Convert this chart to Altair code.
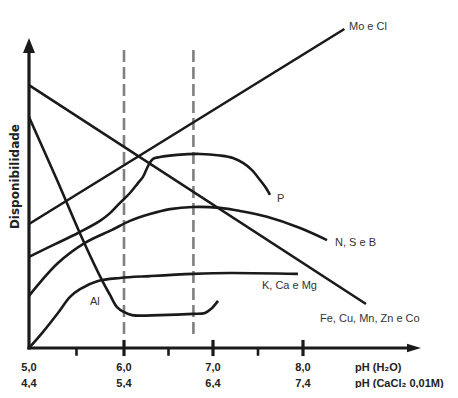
import altair as alt
import pandas as pd

# ---------------- data (pH on x, relative availability on y) ----------------
mo_ph = [5.00, 8.46]
mo_v = [40.0, 102.9]

fe_ph = [5.00, 8.70]
fe_v = [84.8, 14.2]

al_ph = [5.00, 5.295, 5.558, 5.768, 5.853, 5.926, 6.00, 6.09, 6.404, 6.775, 6.91, 6.978, 7.056]
al_v = [74.5, 54.2, 35.5, 21.9, 17.1, 13.2, 11.6, 10.6, 10.6, 11.0, 11.3, 12.6, 15.2]

p_ph = [5.00, 5.274, 5.516, 5.747, 5.853, 5.958, 6.067, 6.157, 6.213, 6.270, 6.326, 6.404,
        6.596, 6.854, 7.078, 7.222, 7.333, 7.433, 7.522, 7.589, 7.633]
p_v = [29.4, 33.5, 37.1, 41.0, 43.5, 46.8, 50.0, 53.2, 55.2, 58.7, 61.0, 61.6,
       62.3, 62.6, 62.1, 61.3, 59.7, 57.4, 54.2, 51.6, 49.4]

n_ph = [5.00, 5.305, 5.589, 5.874, 6.067, 6.292, 6.517, 6.775, 7.078, 7.30, 7.60, 7.967, 8.267]
n_v = [16.8, 27.4, 33.9, 38.1, 41.0, 43.2, 44.8, 45.5, 45.2, 44.2, 42.3, 38.7, 34.8]

k_ph = [5.00, 5.137, 5.305, 5.432, 5.537, 5.726, 5.958, 6.292, 6.775, 7.189, 7.944]
k_v = [0.0, 4.8, 11.3, 16.5, 19.0, 21.6, 22.6, 23.2, 23.9, 24.2, 23.9]

series_names = ["Mo e Cl", "Fe, Cu, Mn, Zn e Co", "Al", "P", "N, S e B", "K, Ca e Mg"]
series_ph = [mo_ph, fe_ph, al_ph, p_ph, n_ph, k_ph]
series_v = [mo_v, fe_v, al_v, p_v, n_v, k_v]

label_text = ["Mo e Cl", "P", "N, S e B", "K, Ca e Mg", "Fe, Cu, Mn, Zn e Co", "Al"]
label_ph = [8.511, 7.711, 8.356, 7.544, 8.189, 5.642]
label_v = [103.6, 48.1, 33.9, 20.0, 9.45, 14.8]

tick_pos = [5, 6, 7, 8]
tick_h2o = ["5,0", "6,0", "7,0", "8,0"]
tick_cacl2 = ["4,4", "5,4", "6,4", "7,4"]
minor_pos = [5.5, 6.5, 7.5]
major_pos = [6, 7, 8]

scale_titles = ["pH (H₂O)", "pH (CaCl₂ 0,01M)"]
dashed_ph = [6.0, 6.78]
y_title = "Disponibilidade"

# ---------------- scales ----------------
xs = alt.Scale(domain=[5, 6, 7, 8], range=[21, 116, 205, 295], nice=False, zero=False)
ys = alt.Scale(domain=[0, 100], range=[340, 30], nice=False, zero=False)

def X(field="x", **kw):
    return alt.X(f"{field}:Q", scale=xs, axis=None, **kw)

def Y(field="y", **kw):
    return alt.Y(f"{field}:Q", scale=ys, axis=None, **kw)

rows = []
for name, phs, vs in zip(series_names, series_ph, series_v):
    for i, (a, b) in enumerate(zip(phs, vs)):
        rows.append({"series": name, "x": a, "y": b, "i": i})
curves_df = pd.DataFrame(rows)

curves = alt.Chart(curves_df).mark_line(
    color="#1a1a1a", strokeWidth=2.6, interpolate="catmull-rom"
).encode(x=X(), y=Y(), detail="series:N", order="i:Q")

dash_df = pd.DataFrame({"x": dashed_ph, "y": [96.1] * 2, "y2": [3.5] * 2})
dashed = alt.Chart(dash_df).mark_rule(
    color="#808080", strokeWidth=2.6, strokeDash=[12, 5]
).encode(x=X(), y=Y(), y2="y2:Q")

# axis lines
axis_df = pd.DataFrame({"x": [5.0, 5.0], "x2": [5.0, 9.17], "y": [0.0, 0.0], "y2": [96.1, 0.0]})
axes = alt.Chart(axis_df).mark_rule(color="#1a1a1a", strokeWidth=3.2, strokeCap="square").encode(
    x=X(), x2="x2:Q", y=Y(), y2="y2:Q"
)

major_df = pd.DataFrame({"x": major_pos, "y": [2.6] * 3, "y2": [-2.6] * 3})
major = alt.Chart(major_df).mark_rule(color="#1a1a1a", strokeWidth=3.2).encode(
    x=X(), y=Y(), y2="y2:Q"
)
minor_df = pd.DataFrame({"x": minor_pos, "y": [0.0] * 3, "y2": [-2.5] * 3})
minor = alt.Chart(minor_df).mark_rule(color="#1a1a1a", strokeWidth=2.6).encode(
    x=X(), y=Y(), y2="y2:Q"
)

arrow_up = alt.Chart(pd.DataFrame({"x": [5.0], "y": [97.6]})).mark_point(
    shape="M0,-1L0.8,1L-0.8,1Z", filled=True, size=225, color="#1a1a1a", opacity=1
).encode(x=X(), y=Y())
arrow_right = alt.Chart(pd.DataFrame({"x": [9.233], "y": [0.0]})).mark_point(
    shape="M1,0L-1,-0.62L-1,0.62Z", filled=True, size=196, color="#1a1a1a", opacity=1
).encode(x=X(), y=Y())

labels_df = pd.DataFrame({"x": label_ph, "y": label_v, "t": label_text})
labels = alt.Chart(labels_df).mark_text(
    align="left", baseline="middle", font="Liberation Sans", fontSize=11, color="#333333"
).encode(x=X(), y=Y(), text="t:N")

ticks_df = pd.DataFrame({"x": tick_pos, "a": tick_h2o, "b": tick_cacl2})
tick_row1 = alt.Chart(ticks_df).mark_text(
    align="center", baseline="middle", font="Liberation Sans", fontSize=11,
    fontWeight="bold", color="#222222"
).encode(x=X(), y=alt.Y("ya:Q", scale=ys, axis=None), text="a:N").transform_calculate(ya="-6.3")
tick_row2 = alt.Chart(ticks_df).mark_text(
    align="center", baseline="middle", font="Liberation Sans", fontSize=11,
    fontWeight="bold", color="#222222"
).encode(x=X(), y=alt.Y("yb:Q", scale=ys, axis=None), text="b:N").transform_calculate(yb="-11.6")

st_df = pd.DataFrame({"x": [8.578, 8.578], "y": [-6.3, -11.6], "t": scale_titles})
scale_title = alt.Chart(st_df).mark_text(
    align="left", baseline="middle", font="Liberation Sans", fontSize=11,
    fontWeight="bold", color="#222222"
).encode(x=X(), y=Y(), text="t:N")

yt = alt.Chart(pd.DataFrame({"x": [4.895], "y": [55.3], "t": [y_title]})).mark_text(
    align="center", baseline="alphabetic", angle=270, font="DejaVu Sans", fontSize=12,
    fontWeight="bold", color="#222222"
).encode(x=X(), y=Y(), text="t:N")

chart = alt.layer(
    dashed, curves, axes, major, minor, arrow_up, arrow_right,
    labels, tick_row1, tick_row2, scale_title, yt
).properties(
    width=440, height=380, autosize=alt.AutoSizeParams(type="none"), padding=0,
    background="white"
).configure_view(stroke=None)

chart.save("out.html", embed_options={"renderer": "svg", "actions": False})
